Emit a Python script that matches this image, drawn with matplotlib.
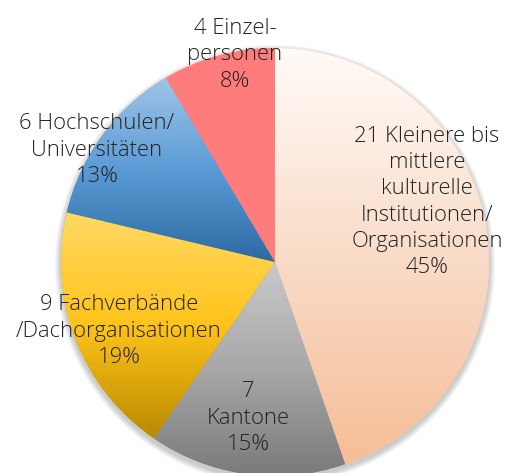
import numpy as np
import matplotlib
matplotlib.use("Agg")
import matplotlib.pyplot as plt
from matplotlib.colors import LinearSegmentedColormap
from matplotlib.patches import Circle

# data
labels = ["Kleinere bis\nmittlere\nkulturelle\nInstitutionen/\nOrganisationen",
          "Kantone",
          "Fachverbände\n/Dachorganisationen",
          "Hochschulen/\nUniversitäten",
          "Einzel-\npersonen"]
counts = [21, 7, 9, 6, 4]
percents = ["45%", "15%", "19%", "13%", "8%"]

# vertical gradient per slice (top, middle, bottom)
gradients = [
    ["#fffbf8", "#f9dcc8", "#f6bd97"],
    ["#cacaca", "#a7a7a7", "#797979"],
    ["#ffd966", "#ffc41a", "#b98a00"],
    ["#a0c5e7", "#5b9bd5", "#2d6aa3"],
    ["#ff7c7c", "#ff7c7c", "#ff7c7c"],
]

# label centres in pixel space (x, y from top)
label_pos = [(427, 202), (248, 418), (119, 331), (97, 150), (235, 55)]

W, H = 509, 473
cx, cy, R = 275, H - 262, 214

plt.rcParams["font.family"] = ["Open Sans", "DejaVu Sans"]

fig = plt.figure(figsize=(W / 100, H / 100), dpi=100)
ax = fig.add_axes([0, 0, 1, 1])
ax.set_xlim(0, W)
ax.set_ylim(0, H)
ax.set_aspect("equal")
ax.axis("off")

# soft shadow
for i in range(6):
    ax.add_patch(Circle((cx, cy - 3), R + 1 + i, facecolor="#000000",
                        alpha=0.035, edgecolor="none", zorder=0))
ax.add_patch(Circle((cx, cy), R, facecolor="white", edgecolor="none", zorder=0.5))

wedges, _ = ax.pie(counts, startangle=90, counterclock=False,
                   center=(cx, cy), radius=R, frame=True,
                   wedgeprops=dict(linewidth=0))

grad = np.linspace(0, 1, 256).reshape(-1, 1)
for w, cols in zip(wedges, gradients):
    verts = w.get_path().vertices
    x0, x1 = verts[:, 0].min(), verts[:, 0].max()
    y0, y1 = verts[:, 1].min(), verts[:, 1].max()
    cmap = LinearSegmentedColormap.from_list("g", cols)
    w.set_facecolor(cols[-1])
    im = ax.imshow(grad, cmap=cmap, extent=(x0, x1, y0, y1), origin="upper",
                   aspect="auto", zorder=w.get_zorder() + 0.1,
                   interpolation="bilinear")
    im.set_clip_path(w)

ax.set_xlim(0, W)
ax.set_ylim(0, H)

for lab, n, p, (lx, ly) in zip(labels, counts, percents, label_pos):
    if lab == "Kantone":
        txt = f"{n}\n{lab}\n{p}"
    else:
        txt = f"{n} {lab}\n{p}"
    ax.text(lx, H - ly, txt, ha="center", va="center", fontsize=15.8,
            color="#222222", linespacing=1.32, fontweight="light", zorder=10)

fig.savefig("out.png", dpi=100)
